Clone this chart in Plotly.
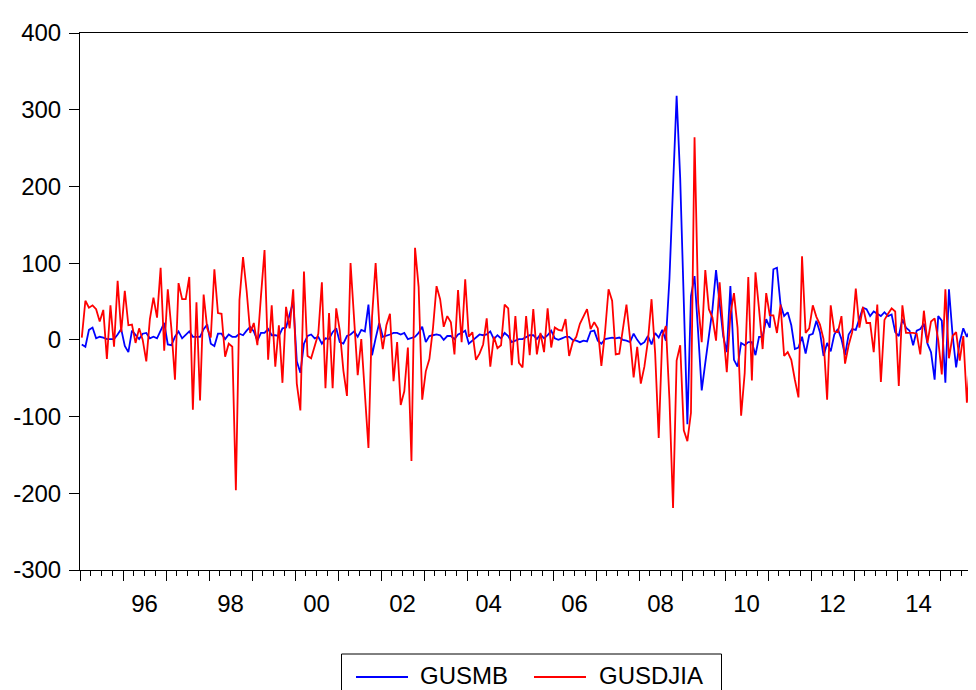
import plotly.graph_objects as go

# ---------------- data (monthly, 1995M01 .. 2015M10) ----------------
start_year = 1995

gusdjia = [
    3, 51, 42, 45, 40, 24, 39, -25, 45, -9, 77, 10,
    64, 19, 20, -4, 15, 0, -28, 27, 55, 29, 94, -14,
    66, 15, -52, 74, 53, 53, 82, -91, 49, -79, 59, 15,
    3, 92, 35, 34, -22, -5, -9, -196, 52, 108, 64, 9,
    22, -7, 57, 117, -26, 45, -35, 19, -56, 43, 15, 66,
    -57, -92, 89, -21, -24, -8, 8, 75, -63, 35, -63, 41,
    12, -40, -73, 100, 20, -46, 1, -68, -141, 30, 100, 22,
    -12, 19, 34, -54, -3, -85, -67, -10, -158, 120, 69, -78,
    -41, -25, 15, 70, 53, 17, 31, 23, -19, 65, -3, 79,
    4, 10, -26, -18, -6, 28, -35, 4, -11, -7, 46, 41,
    -33, 31, -30, -36, 31, -20, 40, -19, 9, -16, 41, -10,
    16, 13, 12, 27, -21, -3, 4, 21, 31, 40, 14, 23,
    15, -34, 9, 66, 51, -19, -18, 12, 46, 2, -49, -9,
    -57, -35, -1, 53, -17, -128, 5, 18, -78, -219, -27, -7,
    -118, -132, -95, 264, 48, -3, 91, 40, 29, -1, 75, 12,
    -42, 33, 61, 16, -99, -43, 82, -53, 88, 40, -12, 61,
    32, 32, 9, 46, -21, -16, -26, -52, -75, 109, 9, 15,
    45, 30, 20, 1, -78, 45, 11, 10, 31, -31, -7, 10,
    67, 16, 43, 22, 22, -16, 46, -55, 26, 34, 41, 37,
    -60, 45, 9, 9, 9, 8, -19, 38, -4, 24, 28, 0,
    -45, 66, -24, 5, 10, -27, 5, -82, -18, 96,
]

gusmb = [
    -6, -9, 13, 16, 2, 4, 3, 1, 1, 1, 7, 14,
    -8, -16, 12, 6, 1, 8, 9, 2, 4, 2, 13, 22,
    -6, -7, 4, 11, 2, 6, 11, 4, 4, 4, 14, 20,
    -5, -8, 8, 8, 1, 7, 4, 4, 8, 6, 12, 17,
    11, -1, 9, 9, 14, 6, 6, 5, 15, 16, 33, 50,
    -28, -43, -5, 5, 7, 2, 4, -5, 2, 1, 10, 15,
    -3, -5, 5, 7, 11, 4, 13, 11, 46, -20, 2, 22,
    4, 5, 7, 9, 9, 7, 9, 1, 3, 4, 9, 17,
    -3, 5, 6, 7, 6, 0, 5, 5, 1, 7, 9, 12,
    -5, -1, 4, 7, 6, 7, 11, 1, 6, 2, 9, 5,
    -3, -1, 1, 1, 4, 6, 6, 1, 7, 2, 6, 12,
    2, 0, 2, 4, 4, 0, -1, -3, -1, -2, 11, 12,
    -1, -5, 1, 2, 3, 2, 3, 0, -1, -3, 8, 0,
    -6, -3, 5, -6, 9, 3, 13, -1, 80, 200, 318, 210,
    63, -110, 57, 83, 10, -66, -30, 2, 40, 91, 50, 5,
    -16, 70, -26, -35, -4, -7, -3, -3, -20, 4, 4, 27,
    16, 92, 94, 46, 31, 36, 19, -12, -10, 4, -18, 6,
    8, 25, 10, -21, -4, -15, 7, 14, 1, -20, 7, 14,
    13, 27, 42, 40, 31, 37, 34, 31, 36, 31, 33, 10,
    5, 27, 16, 12, -7, 12, 14, 21, -5, -16, -52, 31,
    25, -56, 66, 7, -36, -3, 15, 4, 14, -3,
]

label_years = [1996, 1998, 2000, 2002, 2004, 2006, 2008, 2010, 2012, 2014]
year_labels = ["96", "98", "00", "02", "04", "06", "08", "10", "12", "14"]
y_ticks = [-300, -200, -100, 0, 100, 200, 300, 400]
y_labels = ["-300", "-200", "-100", "0", "100", "200", "300", "400"]

x = [start_year + (i + 0.5) / 12 for i in range(len(gusdjia))]

FONT = "Liberation Sans, Arial, sans-serif"
# the page body has an 8px margin, so the figure is sized/offset to compensate
OFF = 8
W, H = 976 - OFF, 690 - OFF
ML, MR, MT, MB = 80 - OFF, 0, 33 - OFF, 120
PX_PER_YEAR = 43.0
x_end = start_year + (W - ML - MR) / PX_PER_YEAR
LW = 1.8

fig = go.Figure()
fig.add_trace(go.Scatter(x=x, y=gusmb, mode="lines", name="GUSMB",
                         line=dict(color="#0000FF", width=LW), showlegend=False))
fig.add_trace(go.Scatter(x=x, y=gusdjia, mode="lines", name="GUSDJIA",
                         line=dict(color="#FF0000", width=LW), showlegend=False))
# invisible trace to carry the yearly-tick axis
fig.add_trace(go.Scatter(x=[start_year], y=[0], xaxis="x2", mode="markers",
                         marker=dict(opacity=0), showlegend=False, hoverinfo="skip"))

fig.update_layout(
    width=W, height=H,
    margin=dict(l=ML, r=MR, t=MT, b=MB, autoexpand=False),
    paper_bgcolor="white", plot_bgcolor="white",
    font=dict(family=FONT, size=24, color="black"),
    xaxis=dict(
        range=[start_year, x_end],
        tickmode="array", tickvals=[y + 0.5 for y in label_years], ticktext=year_labels,
        ticks="", showgrid=False, zeroline=False,
        showline=True, linecolor="black", linewidth=1, mirror=True,
        tickfont=dict(size=24, family=FONT, color="black"),
        ticklabelstandoff=12,
        minor=dict(tickmode="linear", tick0=start_year, dtick=0.25,
                   ticks="outside", ticklen=5, tickcolor="black", tickwidth=1,
                   showgrid=False),
    ),
    xaxis2=dict(
        range=[start_year, x_end], overlaying="x", anchor="y", side="bottom",
        tickmode="linear", tick0=start_year, dtick=1,
        ticks="outside", ticklen=10, tickcolor="black", tickwidth=1,
        showticklabels=False, showgrid=False, zeroline=False, showline=False,
    ),
    yaxis=dict(
        range=[-300, 400], tickmode="array", tickvals=y_ticks, ticktext=y_labels,
        ticks="outside", ticklen=10, tickcolor="black", tickwidth=1,
        showgrid=False, zeroline=False,
        showline=True, linecolor="black", linewidth=1,
        tickfont=dict(size=24, family=FONT, color="black"),
        ticklabelstandoff=3,
    ),
)

# ---- legend drawn in paper coordinates (target pixel positions in the page) ----
pw, ph = W - ML - MR, H - MT - MB
def px(xp):
    return (xp - OFF - ML) / pw
def py(yp):
    return (H - MB - (yp - OFF)) / ph

fig.add_shape(type="rect", xref="paper", yref="paper",
              x0=px(341.5), x1=px(721.5), y0=py(654), y1=py(705),
              line=dict(color="black", width=1), fillcolor="white")
fig.add_shape(type="line", xref="paper", yref="paper",
              x0=px(356), x1=px(408), y0=py(677), y1=py(677),
              line=dict(color="#0000FF", width=LW))
fig.add_shape(type="line", xref="paper", yref="paper",
              x0=px(534), x1=px(586), y0=py(677), y1=py(677),
              line=dict(color="#FF0000", width=LW))
fig.add_annotation(xref="paper", yref="paper", x=px(418), y=py(675),
                   text="GUSMB", showarrow=False, xanchor="left", yanchor="middle",
                   font=dict(size=24, family=FONT, color="black"))
fig.add_annotation(xref="paper", yref="paper", x=px(597), y=py(675),
                   text="GUSDJIA", showarrow=False, xanchor="left", yanchor="middle",
                   font=dict(size=24, family=FONT, color="black"))

fig.write_html("out.html")
